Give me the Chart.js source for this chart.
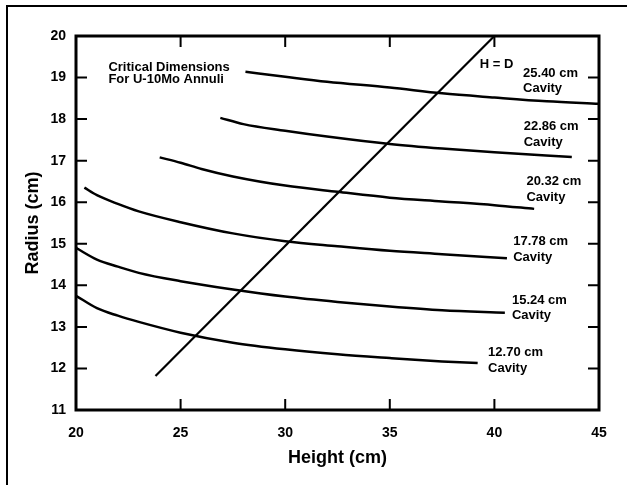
<!DOCTYPE html>
<html>
<head>
<meta charset="utf-8">
<script src="https://cdn.jsdelivr.net/npm/chart.js@4/dist/chart.umd.min.js"></script>
<style>
  body { margin: 0; background: #fff; }
  #wrap { position: relative; width: 627px; height: 485px; overflow: hidden; }
  #frame { position: absolute; left: 6px; top: 5px; right: -10px; bottom: -10px;
           border-left: 2px solid #000; border-top: 2px solid #000; }
  canvas { position: absolute; left: 0; top: 0; }
</style>
</head>
<body>
<div id="wrap">
  <div id="frame"></div>
  <canvas id="chart" width="627" height="485"></canvas>
</div>
<script>
// cavity curves: height (cm) vs critical radius (cm)
const cavityNames = ['12.70 cm', '15.24 cm', '17.78 cm', '20.32 cm', '22.86 cm', '25.40 cm'];

const h1270 = [20, 21, 22, 23, 25, 27.5, 30, 32.5, 35, 37.5, 39.2];
const r1270 = [13.75, 13.45, 13.27, 13.12, 12.86, 12.62, 12.46, 12.34, 12.25, 12.17, 12.13];

const h1524 = [20, 21, 22, 23, 25, 27.5, 30, 32.5, 35, 37.5, 40.5];
const r1524 = [14.9, 14.62, 14.45, 14.3, 14.1, 13.9, 13.73, 13.6, 13.49, 13.4, 13.34];

const h1778 = [20.4, 21, 22, 23, 25, 27.5, 30, 32.5, 35, 37.5, 40.6];
const r1778 = [16.35, 16.17, 15.96, 15.78, 15.52, 15.25, 15.06, 14.94, 14.83, 14.75, 14.65];

const h2032 = [24, 25, 26, 27.5, 30, 32.5, 35, 37.5, 40, 41.9];
const r2032 = [17.08, 16.95, 16.8, 16.62, 16.4, 16.25, 16.11, 16.02, 15.93, 15.84];

const h2286 = [26.9, 28, 30, 32, 35, 37.5, 40, 43.7];
const r2286 = [18.03, 17.88, 17.72, 17.58, 17.4, 17.29, 17.2, 17.09];

const h2540 = [28.1, 30, 32, 35, 37.5, 40, 42.5, 45];
const r2540 = [19.14, 19.02, 18.9, 18.76, 18.62, 18.52, 18.43, 18.37];

// H = D line
const hLine = [23.8, 40];
const rLine = [11.82, 20];

const xTicks = [20, 25, 30, 35, 40, 45];
const yTicks = [11, 12, 13, 14, 15, 16, 17, 18, 19, 20];

// text notes, anchored in data units (left edge, middle)
const noteText = ['Critical Dimensions', 'For U-10Mo Annuli', 'H = D',
  '25.40 cm', 'Cavity', '22.86 cm', 'Cavity', '20.32 cm', 'Cavity',
  '17.78 cm', 'Cavity', '15.24 cm', 'Cavity', '12.70 cm', 'Cavity'];
const noteX = [21.55, 21.55, 39.3, 41.37, 41.37, 41.4, 41.4, 41.53, 41.53, 40.9, 40.9, 40.84, 40.84, 39.7, 39.7];
const noteY = [19.25, 18.95, 19.32, 19.1, 18.74, 17.82, 17.44, 16.5, 16.12, 15.05, 14.67, 13.63, 13.27, 12.38, 12.0];

const curves = [[h1270, r1270], [h1524, r1524], [h1778, r1778], [h2032, r2032], [h2286, r2286], [h2540, r2540]];

const datasets = curves.map((c, i) => ({
  label: cavityNames[i] + ' Cavity',
  data: c[0].map((h, j) => ({ x: h, y: c[1][j] })),
  borderColor: '#000',
  borderWidth: 2.5,
  pointRadius: 0,
  showLine: true,
  cubicInterpolationMode: 'monotone'
}));
datasets.push({
  label: 'H = D',
  data: hLine.map((h, j) => ({ x: h, y: rLine[j] })),
  borderColor: '#000',
  borderWidth: 2.2,
  pointRadius: 0,
  showLine: true
});

const frameAndTicks = {
  id: 'frameAndTicks',
  afterDraw(chart) {
    const { ctx, chartArea: a, scales } = chart;
    ctx.save();
    ctx.strokeStyle = '#000';
    ctx.lineWidth = 3;
    ctx.strokeRect(a.left, a.top, a.right - a.left, a.bottom - a.top);
    ctx.lineWidth = 2;
    xTicks.slice(1, -1).forEach(v => {
      const px = scales.x.getPixelForValue(v);
      ctx.beginPath();
      ctx.moveTo(px, a.bottom); ctx.lineTo(px, a.bottom - 11);
      ctx.moveTo(px, a.top); ctx.lineTo(px, a.top + 11);
      ctx.stroke();
    });
    yTicks.slice(1, -1).forEach(v => {
      const py = scales.y.getPixelForValue(v);
      ctx.beginPath();
      ctx.moveTo(a.left, py); ctx.lineTo(a.left + 11, py);
      ctx.moveTo(a.right, py); ctx.lineTo(a.right - 11, py);
      ctx.stroke();
    });
    ctx.fillStyle = '#000';
    ctx.font = 'bold 13px "Liberation Sans", Arial, sans-serif';
    ctx.textBaseline = 'middle';
    ctx.textAlign = 'left';
    noteText.forEach((t, i) => {
      ctx.fillText(t, scales.x.getPixelForValue(noteX[i]), scales.y.getPixelForValue(noteY[i]));
    });
    ctx.restore();
  }
};

const fam = '"Liberation Sans", Arial, sans-serif';

new Chart(document.getElementById('chart'), {
  type: 'scatter',
  data: { datasets },
  options: {
    responsive: false,
    animation: false,
    layout: { padding: { left: 0, right: 28, top: 36, bottom: 0 } },
    plugins: { legend: { display: false }, tooltip: { enabled: false } },
    scales: {
      x: {
        type: 'linear', min: 20, max: 45,
        afterFit: s => { s.height = 75; },
        afterBuildTicks: s => { s.ticks = xTicks.map(v => ({ value: v })); },
        grid: { display: false, drawTicks: false },
        border: { display: false },
        ticks: { padding: 15, color: '#000', font: { family: fam, weight: 'bold', size: 14 } },
        title: { display: true, text: 'Height (cm)', color: '#000', padding: { top: 0, bottom: 16 },
                 font: { family: fam, weight: 'bold', size: 18 } }
      },
      y: {
        type: 'linear', min: 11, max: 20,
        afterFit: s => { s.width = 76; },
        afterBuildTicks: s => { s.ticks = yTicks.map(v => ({ value: v })); },
        grid: { display: false, drawTicks: false },
        border: { display: false },
        ticks: { padding: 10, color: '#000', font: { family: fam, weight: 'bold', size: 14 } },
        title: { display: true, text: 'Radius (cm)', color: '#000', padding: { top: 22, bottom: 0 },
                 font: { family: fam, weight: 'bold', size: 18 } }
      }
    }
  },
  plugins: [frameAndTicks]
});
</script>
</body>
</html>
